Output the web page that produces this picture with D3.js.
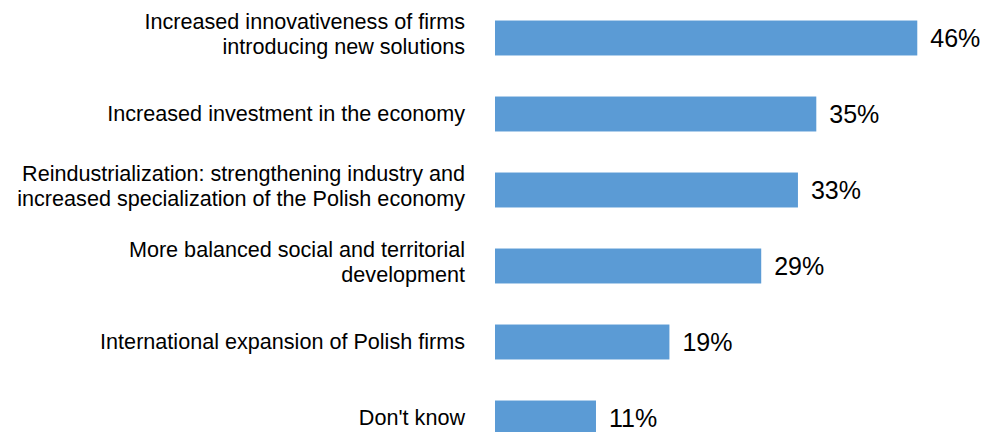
<!DOCTYPE html>
<html>
<head>
<meta charset="utf-8">
<script src="https://cdn.jsdelivr.net/npm/d3@7"></script>
<style>
  body { margin: 0; background: #fff; }
  svg { display: block; }
</style>
</head>
<body>
<svg></svg>
<script>
// categories, each split into its display lines
var categories = [
  ["Increased innovativeness of firms", "introducing new solutions"],
  ["Increased investment in the economy"],
  ["Reindustrialization: strengthening industry and", "increased specialization of the Polish economy"],
  ["More balanced social and territorial", "development"],
  ["International expansion of Polish firms"],
  ["Don't know"]
];
var values = [46, 35, 33, 29, 19, 11];

var drawChart = function()
{
  var width = 985;
  var height = 432;

  var svg = d3.select("svg")
              .attr("width", width)
              .attr("height", height);

  var data = values.map(function(v, i) { return {label: categories[i], value: v, id: i}; });

  var x = d3.scaleLinear()
            .domain([0, 50])
            .range([495, 954]);

  var y = d3.scaleBand()
            .domain(d3.range(values.length))
            .range([0, 456])
            .paddingInner(0.54)
            .paddingOuter(0.27);

  svg.selectAll("rect.bar")
     .data(data)
     .enter()
     .append("rect")
     .attr("class", "bar")
     .attr("x", x(0))
     .attr("y", function(d) { return y(d.id); })
     .attr("width", function(d) { return x(d.value) - x(0); })
     .attr("height", y.bandwidth())
     .attr("fill", "#5b9bd5");

  // value labels
  svg.selectAll("text.val")
     .data(data)
     .enter()
     .append("text")
     .attr("class", "val")
     .text(function(d) { return d.value + "%"; })
     .attr("x", function(d) { return x(d.value) + 13; })
     .attr("y", function(d) { return y(d.id) + y.bandwidth() / 2 + 8.5; })
     .attr("font-family", "'Liberation Sans', Arial, sans-serif")
     .attr("font-size", "25px")
     .attr("fill", "#000");

  // category labels
  var labels = svg.selectAll("text.cat")
     .data(data)
     .enter()
     .append("text")
     .attr("class", "cat")
     .attr("text-anchor", "end")
     .attr("font-family", "'Liberation Sans', Arial, sans-serif")
     .attr("font-size", "21.6px")
     .attr("fill", "#000");

  labels.selectAll("tspan")
     .data(function(d) {
       var mid = y(d.id) + y.bandwidth() / 2;
       var n = d.label.length;
       return d.label.map(function(t, j) {
         return {text: t, y: n == 1 ? mid + 7 : mid - 9.5 + j * 25};
       });
     })
     .enter()
     .append("tspan")
     .attr("x", 465)
     .attr("y", function(d) { return d.y; })
     .text(function(d) { return d.text; });
}

drawChart();
</script>
</body>
</html>
